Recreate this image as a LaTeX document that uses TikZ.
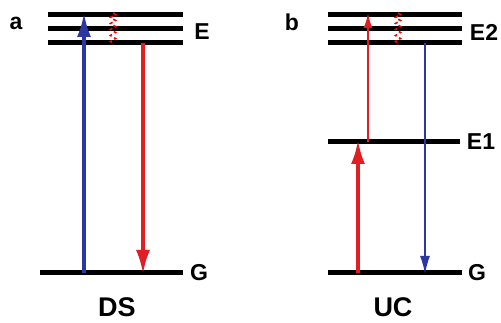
\documentclass[tikz,border=0pt]{standalone}
\usepackage{fontspec}
\setmainfont{Liberation Sans}
\usetikzlibrary{arrows.meta,decorations.pathmorphing}
\tikzstyle{level}=[line width=5pt]
\tikzstyle{lbl}=[font=\bfseries\fontsize{23}{23}\selectfont, inner sep=0pt]
\tikzstyle{title}=[font=\bfseries\fontsize{27}{27}\selectfont, inner sep=0pt]
\tikzstyle{bigarrow}=[line width=3.5pt, -{Latex[length=24pt,width=14pt]}]
\tikzstyle{thinarrow}=[line width=2pt, -{Latex[length=15pt,width=9pt]}]
\tikzstyle{relax}=[red, line width=1.6pt, dashed, decorate, decoration={zigzag,amplitude=2.5pt,segment length=6pt}]
\definecolor{exblue}{RGB}{45,55,160}
\definecolor{exred}{RGB}{225,30,35}

\begin{document}
\begin{tikzpicture}[x=1pt,y=-1pt]
\useasboundingbox (0,0) rectangle (501,323);
% panel a
\draw[level] (48,15) -- (183,15);
\draw[level] (48,29) -- (183,29);
\draw[level] (48,43) -- (183,43);
\draw[level] (40,273) -- (183,273);
\coordinate (aG1) at (84,273);
\coordinate (aE3) at (84,13);
\coordinate (aE1) at (143,43);
\coordinate (aG2) at (143,274);
\coordinate (aw1) at (113,13);
\coordinate (aw2) at (113,45);
\node[lbl] (a) at (16,23) {a};
\node[lbl] (E) at (202,32) {E};
\node[lbl] (G) at (199,273) {G};
\node[title] (DS) at (117,307) {DS};
\draw[bigarrow, exblue] (aG1) -- (aE3);
\draw[bigarrow, exred] (aE1) -- (aG2);
\draw[relax] (aw1) -- (aw2);
% panel b
\draw[level] (328,15) -- (462,15);
\draw[level] (328,29) -- (462,29);
\draw[level] (328,43) -- (462,43);
\draw[level] (328,142) -- (460,142);
\draw[level] (328,273) -- (462,273);
\coordinate (bG1) at (358,273);
\coordinate (bE1) at (358,140);
\coordinate (bE1b) at (368,142);
\coordinate (bE3) at (368,13);
\coordinate (bE2) at (425,43);
\coordinate (bG2) at (425,274);
\coordinate (bw1) at (398,13);
\coordinate (bw2) at (398,45);
\node[lbl] (b) at (292,22) {b};
\node[lbl] (E2) at (484,32) {E2};
\node[lbl] (E1) at (481,142) {E1};
\node[lbl] (Gb) at (477,273) {G};
\node[title] (UC) at (393,307) {UC};
\draw[bigarrow, exred] (bG1) -- (bE1);
\draw[thinarrow, exred] (bE1b) -- (bE3);
\draw[thinarrow, exblue, line width=1.6pt, -{Latex[length=18pt,width=10pt]}] (bE2) -- (bG2);
\draw[relax] (bw1) -- (bw2);
\end{tikzpicture}
\end{document}
